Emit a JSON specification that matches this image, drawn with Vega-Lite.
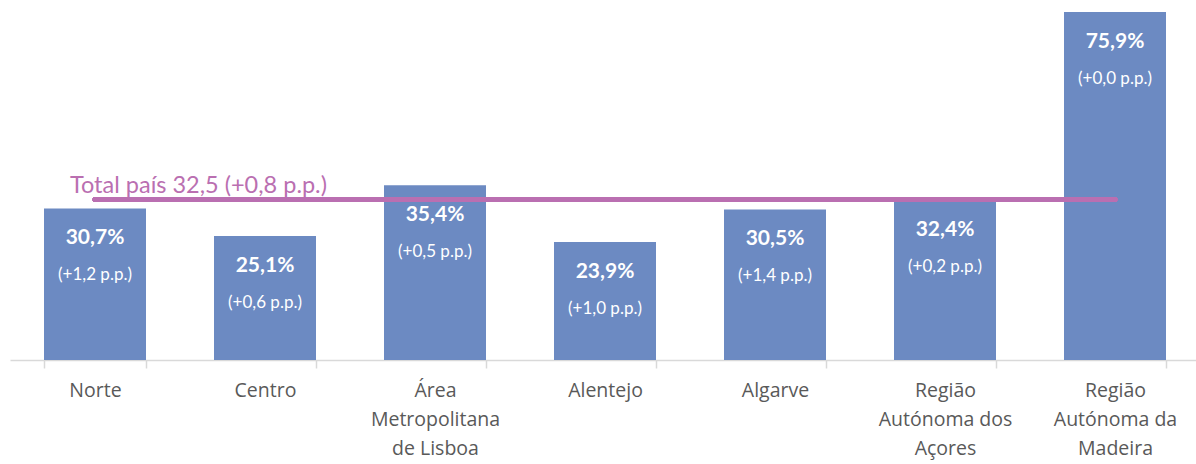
{
  "$schema": "https://vega.github.io/schema/vega-lite/v6.json",
  "autosize": "none",
  "width": 1190,
  "height": 348,
  "padding": {"left": 10, "top": 12, "right": 0, "bottom": 104},
  "background": "white",
  "config": {"view": {"stroke": null}, "font": "Lato"},
  "data": {
    "values": [
      {"regiao": "Norte", "valor": 30.7, "pct": "30,7%", "var": "(+1,2 p.p.)"},
      {"regiao": "Centro", "valor": 25.1, "pct": "25,1%", "var": "(+0,6 p.p.)"},
      {"regiao": "Área Metropolitana de Lisboa", "valor": 35.4, "pct": "35,4%", "var": "(+0,5 p.p.)"},
      {"regiao": "Alentejo", "valor": 23.9, "pct": "23,9%", "var": "(+1,0 p.p.)"},
      {"regiao": "Algarve", "valor": 30.5, "pct": "30,5%", "var": "(+1,4 p.p.)"},
      {"regiao": "Região Autónoma dos Açores", "valor": 32.4, "pct": "32,4%", "var": "(+0,2 p.p.)"},
      {"regiao": "Região Autónoma da Madeira", "valor": 75.9, "pct": "75,9%", "var": "(+0,0 p.p.)", "total": 32.5}
    ]
  },
  "encoding": {
    "x": {
      "field": "regiao",
      "type": "nominal",
      "sort": null,
      "scale": {"paddingInner": 0.4, "paddingOuter": 0.2},
      "axis": {
        "title": null,
        "labelAngle": 0,
        "labelFont": "Open Sans",
        "labelFontSize": 19.5,
        "labelColor": "#595959",
        "labelLineHeight": 29,
        "labelPadding": 13,
        "labelBaseline": "top",
        "domainColor": "#d9d9d9",
        "domainWidth": 1.5,
        "tickColor": "#d9d9d9",
        "tickBand": "extent",
        "tickSize": 8,
        "tickWidth": 1.5,
        "labelExpr": "datum.value == 'Área Metropolitana de Lisboa' ? ['Área', 'Metropolitana', 'de Lisboa'] : datum.value == 'Região Autónoma dos Açores' ? ['Região', 'Autónoma dos', 'Açores'] : datum.value == 'Região Autónoma da Madeira' ? ['Região', 'Autónoma da', 'Madeira'] : datum.value"
      }
    }
  },
  "layer": [
    {
      "mark": {"type": "bar", "color": "#6C8AC2", "clip": true},
      "encoding": {
        "y": {"field": "valor", "type": "quantitative", "scale": {"domain": [0, 70.5], "nice": false, "zero": true, "clamp": true}, "axis": null}
      }
    },
    {
      "mark": {"type": "text", "color": "white", "fontWeight": "bold", "fontSize": 21, "baseline": "middle", "dy": 30},
      "encoding": {
        "y": {"field": "valor", "type": "quantitative"},
        "text": {"field": "pct"}
      }
    },
    {
      "mark": {"type": "text", "color": "white", "fontSize": 17, "baseline": "middle", "dy": 67},
      "encoding": {
        "y": {"field": "valor", "type": "quantitative"},
        "text": {"field": "var"}
      }
    },
    {
      "mark": {"type": "rule", "color": "#BA6FB1", "strokeWidth": 5, "strokeCap": "round"},
      "encoding": {
        "x": {"datum": "Norte", "type": "nominal"},
        "x2": {"datum": "Região Autónoma da Madeira"},
        "y": {"datum": 32.5, "type": "quantitative"}
      }
    },
    {
      "transform": [{"filter": "datum.total != null"}],
      "mark": {"type": "text", "color": "#BA6FB1", "fontSize": 23.5, "align": "left", "baseline": "alphabetic", "dx": -1045, "dy": -7},
      "encoding": {
        "y": {"field": "total", "type": "quantitative"},
        "text": {"value": "Total país 32,5 (+0,8 p.p.)"}
      }
    }
  ]
}
